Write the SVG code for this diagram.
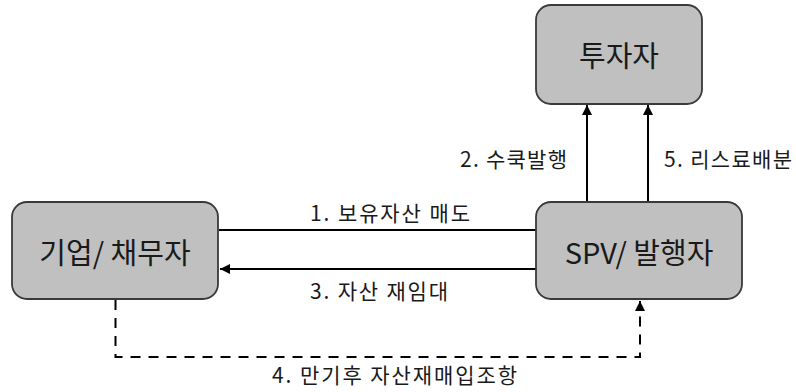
<svg xmlns="http://www.w3.org/2000/svg" width="796" height="392" viewBox="0 0 796 392">
  <style>
    .box { fill: #c0c0c0; stroke: #3a3a3a; stroke-width: 1.8; }
    .node-label { font-family: "Noto Sans CJK KR", "Noto Sans", sans-serif; font-size: 29px; fill: #1a1a1a; text-anchor: middle; }
    .edge-label { font-family: "Noto Sans CJK KR", "Noto Sans", sans-serif; font-size: 21px; fill: #1a1a1a; }
    .line { fill: none; stroke: #000; stroke-width: 2; }
    .dashed { stroke-dasharray: 10 8; }
  </style>
  <defs>
    <marker id="arrow" viewBox="0 0 10 10" refX="10" refY="5" markerWidth="10" markerHeight="10" markerUnits="userSpaceOnUse" orient="auto">
      <path d="M0,0 L10,5 L0,10 Z" fill="#000"/>
    </marker>
  </defs>

  <rect width="796" height="392" fill="#fff"/>

  <g id="connectors">
    <!-- 1: debtor to SPV -->
    <line class="line" x1="219" y1="230" x2="536" y2="230"/>
    <!-- 3: SPV back to debtor -->
    <line class="line" x1="536" y1="269" x2="220" y2="269" marker-end="url(#arrow)"/>
    <!-- 2 and 5: SPV up to investors -->
    <line class="line" x1="587" y1="202" x2="587" y2="105" marker-end="url(#arrow)"/>
    <line class="line" x1="648" y1="202" x2="648" y2="105" marker-end="url(#arrow)"/>
    <!-- 4: repurchase clause -->
    <path class="line dashed" d="M115.5,300 V357 H640 V301" marker-end="url(#arrow)"/>

    <text class="edge-label" x="310" y="221" textLength="160">1. 보유자산 매도</text>
    <text class="edge-label" x="310" y="299" textLength="138">3. 자산 재임대</text>
    <text class="edge-label" x="460" y="167" textLength="107">2. 수쿡발행</text>
    <text class="edge-label" x="664" y="167" textLength="128">5. 리스료배분</text>
    <text class="edge-label" x="272" y="383" textLength="245">4. 만기후 자산재매입조항</text>
  </g>

  <g id="investor">
    <rect class="box" x="536" y="5" width="166" height="99" rx="15"/>
    <text class="node-label" x="619" y="67">투자자</text>
  </g>

  <g id="debtor">
    <rect class="box" x="12" y="202" width="206" height="97" rx="15"/>
    <text class="node-label" x="115" y="264">기업/ 채무자</text>
  </g>

  <g id="spv">
    <rect class="box" x="536" y="202" width="206" height="97" rx="15"/>
    <text class="node-label" x="639" y="264">SPV/ 발행자</text>
  </g>
</svg>
